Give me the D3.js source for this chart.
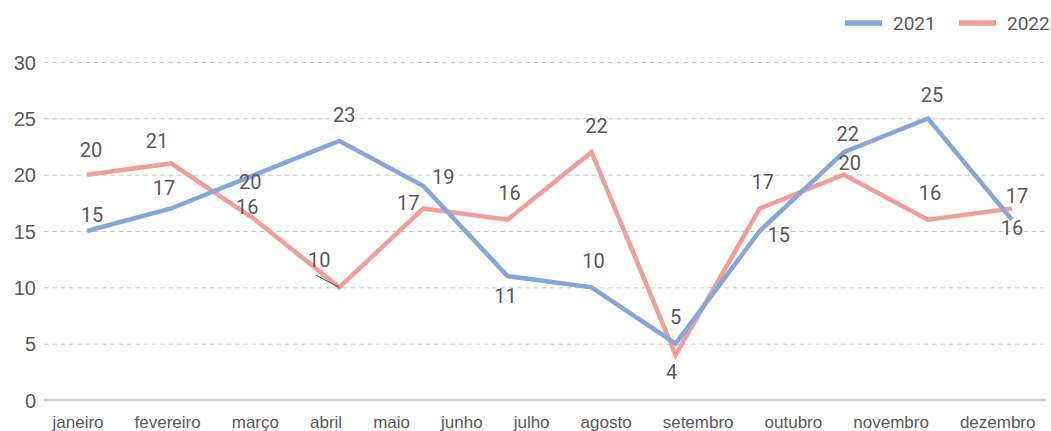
<!DOCTYPE html>
<html>
<head>
<meta charset="utf-8">
<script src="https://cdn.jsdelivr.net/npm/d3@7"></script>
<style>
  body { margin: 0; background: #fff; }
  svg { font-family: Roboto, "Noto Sans", sans-serif; }
  .tick text { fill: #595959; }
</style>
</head>
<body>
<svg width="1051" height="431"></svg>
<script>
// **** data ****
var months = ['janeiro', 'fevereiro', 'março', 'abril', 'maio', 'junho',
              'julho', 'agosto', 'setembro', 'outubro', 'novembro', 'dezembro'];
var values2021 = [15, 17, 20, 23, 19, 11, 10, 5, 15, 22, 25, 16];
var values2022 = [20, 21, 16, 10, 17, 16, 22, 4, 17, 20, 16, 17];
var yTicks = [0, 5, 10, 15, 20, 25, 30];
var seriesNames = ['2021', '2022'];

// label offsets (px from the point) so the numbers sit like in the original
var labelOffset2021 = [[5,-16],[-7,-21],[-5,7],[5,-26],[20,-9],[-2,20],[2,-27],[0,-27],[19,4],[4,-18],[4,-24],[0,8]];
var labelOffset2022 = [[4,-25],[-14,-23],[-8,-13],[-20,-28],[-15,-6],[2,-27],[5,-26],[-4,17],[3,-27],[6,-12],[2,-27],[5,-13]];

var blue = '#84a6da', red = '#f19e98', textCol = '#595959';

var svg = d3.select('svg');
var plotLeft = 44, plotRight = 1046;

// **** scales ****
var x = d3.scalePoint().domain(months).range([87, 1012]);
var y = d3.scaleLinear().domain([0, 30]).range([400, 62]);

// grid lines (dashed, no line at 0)
svg.append('g').attr('class', 'grid')
    .attr('transform', 'translate(' + plotLeft + ',0)')
    .call(d3.axisLeft(y).tickValues(yTicks.slice(1)).tickSize(-(plotRight - plotLeft)).tickFormat(''))
    .call(function(g){ g.select('.domain').remove(); })
    .selectAll('line')
    .attr('stroke', '#c6c6c6')
    .attr('stroke-dasharray', '4.5,3.8');

// y axis labels
svg.append('g').attr('class', 'y axis')
    .attr('transform', 'translate(' + plotLeft + ',0)')
    .call(d3.axisLeft(y).tickValues(yTicks).tickSize(0).tickPadding(8))
    .call(function(g){ g.select('.domain').remove(); })
    .selectAll('text')
    .attr('font-size', 20)
    .attr('dy', '0.36em');

// baseline
svg.append('line')
    .attr('x1', plotLeft).attr('x2', plotRight)
    .attr('y1', y(0)).attr('y2', y(0))
    .attr('stroke', '#d0d0d0').attr('stroke-width', 2.5);

// x axis labels (the original packs them one after the other)
var xAxis = svg.append('g').attr('class', 'x axis')
    .attr('transform', 'translate(0,' + y(0) + ')')
    .call(d3.axisBottom(x).tickSize(0).tickPadding(0));
xAxis.select('.domain').remove();
var xt = xAxis.selectAll('.tick text')
    .attr('font-size', 17)
    .attr('dy', 0)
    .attr('y', 28);
var widths = [];
xt.each(function(){ widths.push(this.getComputedTextLength()); });
var startX = 52, endX = 1035;
var gap = (endX - startX - d3.sum(widths)) / (widths.length - 1);
var cursor = startX;
xt.each(function(d, i){
    var cx = cursor + widths[i] / 2;
    d3.select(this).attr('x', cx - x(d));
    cursor += widths[i] + gap;
});

// **** lines ****
var line = d3.line()
    .x(function(d, i){ return x(months[i]); })
    .y(function(d){ return y(d); });

svg.append('path')
    .datum(values2022)
    .attr('fill', 'none')
    .attr('stroke', red)
    .attr('stroke-width', 4.5)
    .attr('d', line);

svg.append('path')
    .datum(values2021)
    .attr('fill', 'none')
    .attr('stroke', blue)
    .attr('stroke-width', 4.5)
    .attr('d', line);

// leader line for abril 2022
svg.append('line')
    .attr('x1', x('abril') - 23).attr('y1', y(values2022[3]) - 12)
    .attr('x2', x('abril')).attr('y2', y(values2022[3]))
    .attr('stroke', '#444').attr('stroke-width', 1);

// **** data labels ****
function addLabels(vals, offs) {
    svg.append('g').selectAll('text')
        .data(vals)
        .enter()
        .append('text')
        .attr('x', function(d, i){ return x(months[i]) + offs[i][0]; })
        .attr('y', function(d, i){ return y(d) + offs[i][1]; })
        .attr('dy', '0.36em')
        .attr('text-anchor', 'middle')
        .attr('font-size', 20)
        .attr('fill', textCol)
        .text(function(d){ return d; });
}
addLabels(values2021, labelOffset2021);
addLabels(values2022, labelOffset2022);

// **** legend ****
var legend = svg.append('g').attr('class', 'legend');
var legendX = [845, 959];
[blue, red].forEach(function(c, i){
    legend.append('line')
        .attr('x1', legendX[i]).attr('x2', legendX[i] + 37)
        .attr('y1', 23).attr('y2', 23)
        .attr('stroke', c).attr('stroke-width', 5.5);
    legend.append('text')
        .attr('x', legendX[i] + 48)
        .attr('y', 30)
        .attr('font-size', 19)
        .attr('fill', textCol)
        .text(seriesNames[i]);
});
</script>
</body>
</html>
